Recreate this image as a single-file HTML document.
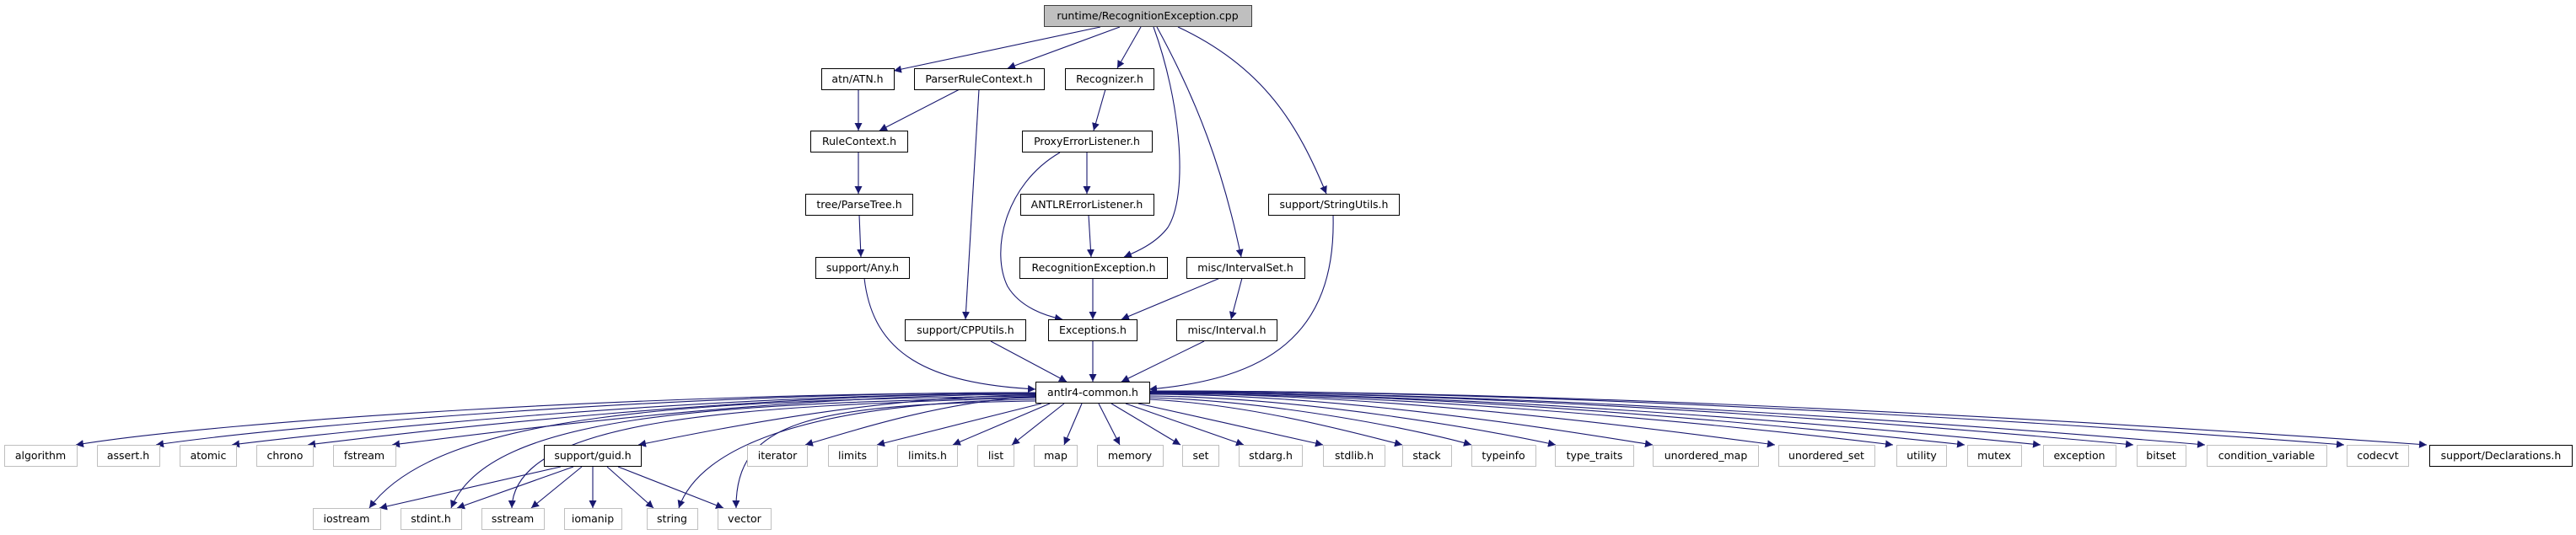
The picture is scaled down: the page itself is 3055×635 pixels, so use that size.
<!DOCTYPE html>
<html><head><meta charset="utf-8"><style>
html,body{margin:0;padding:0;background:#fff;width:3055px;height:635px;overflow:hidden}
svg text{font-family:"DejaVu Sans","Liberation Sans",sans-serif;font-size:12.5px;fill:#000}
</style></head><body>
<svg width="3055" height="635" viewBox="0 0 3055 635" xmlns="http://www.w3.org/2000/svg">
<defs><marker id="a" viewBox="0 0 10 10" refX="10" refY="5" markerWidth="9" markerHeight="9" markerUnits="userSpaceOnUse" orient="auto"><path d="M0,0L10,5L0,10z" fill="#191970"/></marker></defs>
<g fill="none" stroke="#191970" stroke-width="1.1" marker-end="url(#a)">
<path d="M1305,32L1060,84"/>
<path d="M1328,32L1195,81"/>
<path d="M1353,32L1325,81"/>
<path d="M1368,32C1400,120 1410,230 1385,270C1370,290 1345,300 1333,305"/>
<path d="M1372,32C1420,120 1450,200 1472,305"/>
<path d="M1397,32C1500,80 1540,150 1573,230"/>
<path d="M1018,106L1018,155"/>
<path d="M1138,106L1043,155"/>
<path d="M1161,106L1145,379"/>
<path d="M1311,106L1297,155"/>
<path d="M1289,181L1289,230"/>
<path d="M1257,181C1190,220 1175,300 1195,340C1210,365 1240,375 1260,379"/>
<path d="M1291,255L1294,305"/>
<path d="M1296,330L1296,379"/>
<path d="M1447,330L1330,379"/>
<path d="M1473,330L1460,379"/>
<path d="M1018,181L1018,230"/>
<path d="M1019,255L1021,305"/>
<path d="M1025,330C1035,420 1100,455 1228,462"/>
<path d="M1175,405L1265,453"/>
<path d="M1296,405L1296,453"/>
<path d="M1428,405L1330,453"/>
<path d="M1581,255C1585,400 1500,450 1363,462"/>
<path d="M1228,466C773,466 261,500 90,528"/>
<path d="M1228,466C811,466 341,505 185,528"/>
<path d="M1228,467C847,467 418,510 275,528"/>
<path d="M1228,467C883,467 494,512 365,528"/>
<path d="M1228,468C923,468 579,514 465,528"/>
<path d="M1228,469C1040,469 828,514 757,528"/>
<path d="M1228,471C1119,475 996,516 955,528"/>
<path d="M1235,479L1040,528"/>
<path d="M1245,479L1130,528"/>
<path d="M1262,479L1200,528"/>
<path d="M1283,479L1262,528"/>
<path d="M1303,479L1328,528"/>
<path d="M1318,479L1400,528"/>
<path d="M1335,479L1475,528"/>
<path d="M1350,479C1420,495 1500,512 1569,528"/>
<path d="M1363,474C1483,480 1600,512 1663,528"/>
<path d="M1363,472C1516,476 1690,512 1745,528"/>
<path d="M1363,470C1556,472 1770,512 1845,528"/>
<path d="M1363,468C1602,468 1870,514 1960,528"/>
<path d="M1363,467C1660,467 2000,514 2105,528"/>
<path d="M1363,467C1716,467 2130,514 2245,528"/>
<path d="M1363,466C1750,466 2200,514 2330,528"/>
<path d="M1363,466C1786,466 2280,514 2420,528"/>
<path d="M1363,465C1830,465 2380,514 2530,528"/>
<path d="M1363,465C1864,465 2450,514 2615,528"/>
<path d="M1363,464C1930,464 2600,514 2780,528"/>
<path d="M1363,464C1970,464 2680,514 2878,528"/>
<path d="M1228,470C820,475 520,490 438,603"/>
<path d="M1228,471C850,480 580,490 535,603"/>
<path d="M1228,472C880,482 610,495 607,603"/>
<path d="M1228,474C960,478 830,530 805,603"/>
<path d="M1228,476C960,480 872,500 873,603"/>
<path d="M665,554L450,603"/>
<path d="M680,554L542,603"/>
<path d="M690,554L630,603"/>
<path d="M703,554L703,603"/>
<path d="M720,554L775,603"/>
<path d="M733,554L858,603"/>
</g>
<g stroke-width="1">
<rect x="1238.5" y="6.5" width="246" height="25" fill="#bfbfbf" stroke="#404040"/>
<g fill="#fff" stroke="#000">
<rect x="974.5" y="81.5" width="86" height="25"/><rect x="1084.5" y="81.5" width="154" height="25"/><rect x="1263.5" y="81.5" width="105" height="25"/>
<rect x="961.5" y="155.5" width="115" height="25"/><rect x="1212.5" y="155.5" width="154" height="25"/>
<rect x="955.5" y="230.5" width="127" height="25"/><rect x="1210.5" y="230.5" width="158" height="25"/><rect x="1504.5" y="230.5" width="155" height="25"/>
<rect x="967.5" y="305.5" width="111" height="25"/><rect x="1209.5" y="305.5" width="175" height="25"/><rect x="1407.5" y="305.5" width="140" height="25"/>
<rect x="1073.5" y="379.5" width="143" height="25"/><rect x="1243.5" y="379.5" width="105" height="25"/><rect x="1395.5" y="379.5" width="119" height="25"/>
<rect x="1228.5" y="453.5" width="135" height="25"/>
<rect x="645.5" y="528.5" width="115" height="25"/><rect x="2881.5" y="528.5" width="169" height="25"/>
</g>
<g fill="#fff" stroke="#bfbfbf">
<rect x="5.5" y="528.5" width="86" height="25"/><rect x="115.5" y="528.5" width="74" height="25"/><rect x="213.5" y="528.5" width="67" height="25"/><rect x="304.5" y="528.5" width="67" height="25"/><rect x="395.5" y="528.5" width="74" height="25"/>
<rect x="886.5" y="528.5" width="71" height="25"/><rect x="982.5" y="528.5" width="58" height="25"/><rect x="1064.5" y="528.5" width="71" height="25"/><rect x="1159.5" y="528.5" width="43" height="25"/><rect x="1226.5" y="528.5" width="51" height="25"/><rect x="1301.5" y="528.5" width="78" height="25"/><rect x="1402.5" y="528.5" width="43" height="25"/><rect x="1469.5" y="528.5" width="75" height="25"/><rect x="1569.5" y="528.5" width="73" height="25"/><rect x="1663.5" y="528.5" width="58" height="25"/><rect x="1745.5" y="528.5" width="76" height="25"/><rect x="1844.5" y="528.5" width="93" height="25"/><rect x="1960.5" y="528.5" width="125" height="25"/><rect x="2109.5" y="528.5" width="114" height="25"/><rect x="2249.5" y="528.5" width="59" height="25"/><rect x="2333.5" y="528.5" width="64" height="25"/><rect x="2423.5" y="528.5" width="86" height="25"/><rect x="2534.5" y="528.5" width="58" height="25"/><rect x="2617.5" y="528.5" width="142" height="25"/><rect x="2783.5" y="528.5" width="73" height="25"/>
<rect x="371.5" y="603.5" width="80" height="25"/><rect x="475.5" y="603.5" width="72" height="25"/><rect x="571.5" y="603.5" width="74" height="25"/><rect x="669.5" y="603.5" width="68" height="25"/><rect x="767.5" y="603.5" width="60" height="25"/><rect x="851.5" y="603.5" width="63" height="25"/>
</g>
</g>
<g text-anchor="middle">
<text x="1361" y="23">runtime/RecognitionException.cpp</text>
<text x="1017" y="98">atn/ATN.h</text><text x="1161" y="98">ParserRuleContext.h</text><text x="1316" y="98">Recognizer.h</text>
<text x="1019" y="172">RuleContext.h</text><text x="1289" y="172">ProxyErrorListener.h</text>
<text x="1019" y="247">tree/ParseTree.h</text><text x="1289" y="247">ANTLRErrorListener.h</text><text x="1582" y="247">support/StringUtils.h</text>
<text x="1023" y="322">support/Any.h</text><text x="1297" y="322">RecognitionException.h</text><text x="1477" y="322">misc/IntervalSet.h</text>
<text x="1145" y="396">support/CPPUtils.h</text><text x="1296" y="396">Exceptions.h</text><text x="1455" y="396">misc/Interval.h</text>
<text x="1296" y="470">antlr4-common.h</text>
<text x="48" y="545">algorithm</text><text x="152" y="545">assert.h</text><text x="247" y="545">atomic</text><text x="338" y="545">chrono</text><text x="432" y="545">fstream</text>
<text x="703" y="545">support/guid.h</text>
<text x="922" y="545">iterator</text><text x="1011" y="545">limits</text><text x="1100" y="545">limits.h</text><text x="1181" y="545">list</text><text x="1252" y="545">map</text><text x="1340" y="545">memory</text><text x="1424" y="545">set</text><text x="1507" y="545">stdarg.h</text><text x="1606" y="545">stdlib.h</text><text x="1692" y="545">stack</text><text x="1783" y="545">typeinfo</text><text x="1891" y="545">type_traits</text><text x="2023" y="545">unordered_map</text><text x="2166" y="545">unordered_set</text><text x="2279" y="545">utility</text><text x="2365" y="545">mutex</text><text x="2466" y="545">exception</text><text x="2563" y="545">bitset</text><text x="2688" y="545">condition_variable</text><text x="2820" y="545">codecvt</text><text x="2966" y="545">support/Declarations.h</text>
<text x="411" y="620">iostream</text><text x="511" y="620">stdint.h</text><text x="608" y="620">sstream</text><text x="703" y="620">iomanip</text><text x="797" y="620">string</text><text x="883" y="620">vector</text>
</g>
</svg>
</body></html>
